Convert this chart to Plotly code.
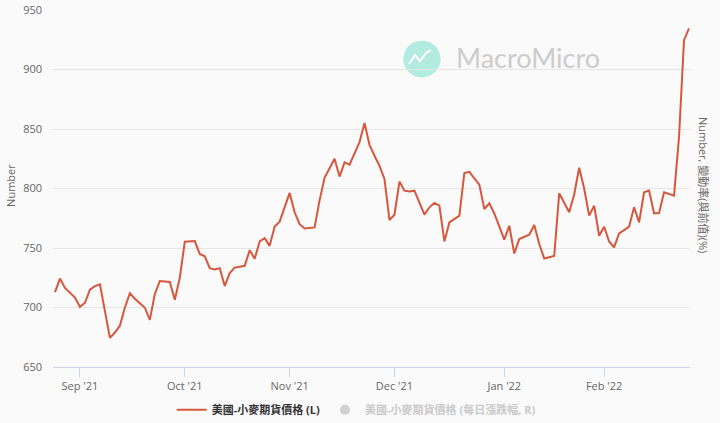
import plotly.graph_objects as go

# Trading days (ordinal axis, as in the source chart)
aug = ["2021-08-%02d" % d for d in [25, 26, 27, 30, 31]]
sep = ["2021-09-%02d" % d for d in [1, 2, 3, 7, 8, 9, 10, 13, 14, 15, 16, 17, 20, 21, 22, 23, 24, 27, 28, 29, 30]]
oct_ = ["2021-10-%02d" % d for d in [1, 4, 5, 6, 7, 8, 11, 12, 13, 14, 15, 18, 19, 20, 21, 22, 25, 26, 27, 28, 29]]
nov = ["2021-11-%02d" % d for d in [1, 2, 3, 4, 5, 8, 9, 10, 11, 12, 15, 16, 17, 18, 19, 22, 23, 24, 26, 29, 30]]
dec = ["2021-12-%02d" % d for d in [1, 2, 3, 6, 7, 8, 9, 10, 13, 14, 15, 16, 17, 20, 21, 22, 23, 27, 28, 29, 30, 31]]
jan = ["2022-01-%02d" % d for d in [3, 4, 5, 6, 7, 10, 11, 12, 13, 14, 18, 19, 20, 21, 24, 25, 26, 27, 28, 31]]
feb = ["2022-02-%02d" % d for d in [1, 2, 3, 4, 7, 8, 9, 10, 11, 14, 15, 16, 17, 18, 22, 23, 24, 25]]
dates = aug + sep + oct_ + nov + dec + jan + feb

wheat_price = [
    713, 724.3, 716.5, 712.3, 708.4, 700.4, 704, 715, 718, 719.5,
    697, 674.5, 679, 684.7, 700, 712, 707.4, 703.8, 699.8, 689.7,
    711.4, 722.3, 722, 721.5, 706.5, 725, 755.2, 755.5, 755.8, 745,
    743, 733, 732, 733, 718, 729, 733.5, 734.3, 735, 748.2,
    741, 755.5, 758.3, 751.8, 768, 772.1, 784.5, 796.3, 780, 770,
    766.4, 767, 767.3, 790, 809, 817, 825, 810, 822, 820,
    829, 839, 855, 836.7, 827.5, 819, 808, 773.5, 778, 805.8,
    798.2, 797.5, 798.2, 788.4, 778, 784.2, 787.9, 785.6, 755.5, 771.5,
    774.4, 777.2, 813, 814, 808.5, 803.3, 782.8, 787.5, 779, 768,
    757, 768.7, 745.4, 757.5, 759, 761.1, 769.3, 753.3, 741.2, 742.3,
    743.4, 796, 788, 780, 795, 817.4, 800, 777.2, 785.6, 760.3,
    767.9, 755.5, 750.5, 762.3, 765, 768, 784.2, 771.5, 796.8, 798.2,
    779.1, 779.4, 796.8, 795.5, 794, 843.2, 924.7, 934.6,
]
# The right-axis series is hidden in the source chart (legend only): no values shown
wheat_daily_change = [None] * len(dates)

tick_dates = ["2021-09-01", "2021-10-01", "2021-11-01", "2021-12-01", "2022-01-03", "2022-02-01"]
tick_labels = ["Sep '21", "Oct '21", "Nov '21", "Dec '21", "Jan '22", "Feb '22"]
y_ticks = [650, 700, 750, 800, 850, 900, 950]

series_l = "美國-小麥期貨價格 (L)"
series_r = "美國-小麥期貨價格 (每日漲跌幅, R)"

FONT = "Open Sans, Noto Sans CJK TC, sans-serif"
BG = "#fafafa"

fig = go.Figure()
fig.add_trace(go.Scatter(
    x=dates, y=wheat_price, mode="lines", name="<b>" + series_l + "</b>",
    line=dict(color="#d6573d", width=2), yaxis="y",
))
fig.add_trace(go.Scatter(
    x=dates, y=wheat_daily_change, mode="markers",
    name='<b><span style="color:#999999">' + series_r + "</span></b>",
    marker=dict(color="#aaaaaa", size=10, symbol="circle"), yaxis="y2", visible="legendonly",
))

fig.update_layout(
    width=720, height=423,
    margin=dict(l=53, r=30, t=10, b=56, autoexpand=False),
    paper_bgcolor=BG, plot_bgcolor=BG,
    font=dict(family=FONT, color="#666666", size=11),
    showlegend=True,
    legend=dict(orientation="h", x=0.476, xanchor="center", y=-0.12, yanchor="middle",
                font=dict(size=11, color="#333333"), bgcolor="rgba(0,0,0,0)",
                itemwidth=30),
    xaxis=dict(
        type="category", categoryorder="array", categoryarray=dates,
        range=[-0.4, len(dates) - 0.8], automargin=False,
        tickmode="array", tickvals=tick_dates, ticktext=tick_labels,
        ticks="outside", ticklen=9, tickcolor="#ccd6eb", tickwidth=1,
        showline=True, linecolor="#ccd6eb", linewidth=1,
        showgrid=False, zeroline=False,
        tickfont=dict(size=11, color="#666666"),
    ),
    yaxis=dict(
        range=[650, 950], tickmode="array", tickvals=y_ticks, automargin=False,
        showgrid=True, gridcolor="#e6e6e6", gridwidth=1, zeroline=False,
        showline=False, ticks="", ticklabelstandoff=10,
        tickfont=dict(size=11, color="#666666"),
    ),
    yaxis2=dict(overlaying="y", side="right", showgrid=False, showticklabels=False,
                zeroline=False, showline=False, range=[0, 1], automargin=False),
)

# Axis titles
fig.add_annotation(text="Number", xref="paper", yref="paper", x=-0.066, y=0.51,
                   textangle=-90, showarrow=False, font=dict(size=11, color="#666666"),
                   xanchor="center", yanchor="middle")
fig.add_annotation(text="Number, 變動率(與前值)(%)", xref="paper", yref="paper", x=1.0204, y=0.51,
                   textangle=90, showarrow=False, font=dict(size=11, color="#666666"),
                   xanchor="center", yanchor="middle")

# Watermark
fig.add_shape(type="circle", xref="paper", yref="paper", x0=0.5499, x1=0.6086, y0=0.8115, y1=0.914,
              fillcolor="#b4ebe1", line=dict(width=0), layer="below")
fig.add_shape(type="path", xref="paper", yref="paper",
              path="M 0.5589 0.8487 L 0.5683 0.8739 L 0.5761 0.8571 L 0.5856 0.8796 L 0.5934 0.8880",
              line=dict(color="white", width=2), layer="below")
fig.add_annotation(text="MacroMicro", xref="paper", yref="paper", x=0.7459, y=0.866,
                   showarrow=False, font=dict(family="Lato, Open Sans, sans-serif", size=27, color="#cccccc"),
                   xanchor="center", yanchor="middle")

fig.write_html(
    "out.html",
    config={"displayModeBar": False},
    post_script="document.body.style.margin='0';document.body.style.background='#fafafa';",
)
